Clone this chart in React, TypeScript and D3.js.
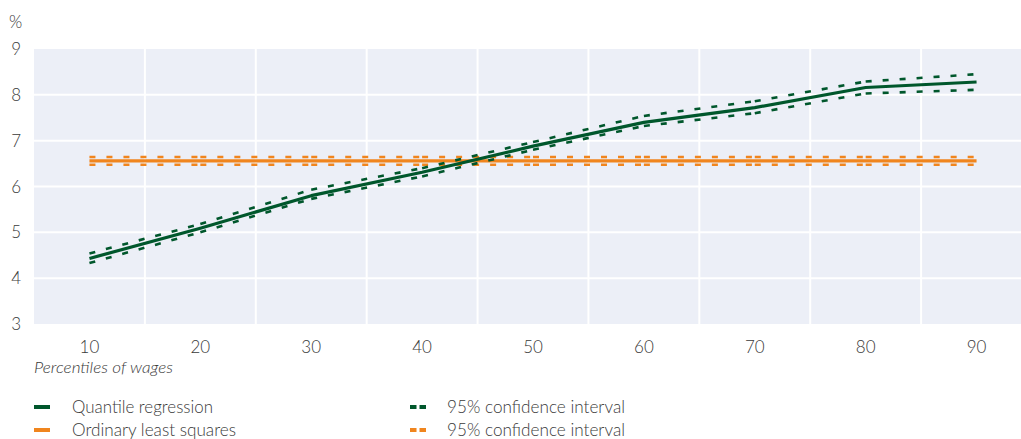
import React from "react";
import * as d3 from "d3";

const percentiles = [10, 20, 30, 40, 50, 60, 70, 80, 90];
const quantileReg = [4.43, 5.09, 5.8, 6.31, 6.88, 7.4, 7.72, 8.16, 8.28];
const quantileUpper = [4.54, 5.18, 5.93, 6.4, 6.97, 7.54, 7.86, 8.29, 8.45];
const quantileLower = [4.33, 5.0, 5.73, 6.22, 6.8, 7.32, 7.6, 8.03, 8.11];
const ols = [6.56, 6.56, 6.56, 6.56, 6.56, 6.56, 6.56, 6.56, 6.56];
const olsUpper = [6.645, 6.645, 6.645, 6.645, 6.645, 6.645, 6.645, 6.645, 6.645];
const olsLower = [6.475, 6.475, 6.475, 6.475, 6.475, 6.475, 6.475, 6.475, 6.475];
const yTicks = [3, 4, 5, 6, 7, 8, 9];
const xGrid = [15, 25, 35, 45, 55, 65, 75, 85];

const GREEN = "#00572C";
const ORANGE = "#F0851E";
const BG = "#ECEFF7";
const TEXT = "#3a3a3a";
const FONT = "Lato, 'Open Sans', sans-serif";

export default function App() {
  const W = 1021;
  const H = 439;
  const x = d3.scaleLinear().domain([5, 95]).range([34, 1032]);
  const y = d3.scaleLinear().domain([3, 9]).range([324, 49]);
  const line = d3
    .line<number>()
    .x((_, i) => x(percentiles[i]))
    .y((d) => y(d));

  const dashed = (vals: number[], color: string, key: string, w: number) =>
    vals.slice(0, -1).map((v, i) => (
      <line
        key={key + i}
        x1={x(percentiles[i])}
        y1={y(v)}
        x2={x(percentiles[i + 1])}
        y2={y(vals[i + 1])}
        stroke={color}
        strokeWidth={w}
        strokeDasharray="6 11"
      />
    ));

  const legend = [
    { lx: 34, tx: 72, cy: 407, color: GREEN, dash: false, label: "Quantile regression", len: 141 },
    { lx: 34, tx: 72, cy: 430, color: ORANGE, dash: false, label: "Ordinary least squares", len: 164 },
    { lx: 410, tx: 447, cy: 407, color: GREEN, dash: true, label: "95% confidence interval", len: 178 },
    { lx: 410, tx: 447, cy: 430, color: ORANGE, dash: true, label: "95% confidence interval", len: 178 },
  ];

  return (
    <div style={{ position: "absolute", left: 0, top: 0 }}>
      <svg width={W} height={H} style={{ display: "block" }} fontFamily={FONT}>
        <rect x={x(5)} y={y(9)} width={W - x(5)} height={y(3) - y(9)} fill={BG} />
        {yTicks.slice(1, -1).map((t) => (
          <line key={"hy" + t} x1={x(5)} x2={W} y1={y(t)} y2={y(t)} stroke="#fff" strokeWidth={2} />
        ))}
        {xGrid.map((t) => (
          <line key={"vx" + t} x1={x(t)} x2={x(t)} y1={y(9)} y2={y(3)} stroke="#fff" strokeWidth={2} />
        ))}
        {yTicks.map((t) => (
          <text key={"yt" + t} x={21} y={y(t)} dy="0.36em" textAnchor="end" fontSize={17} fontWeight={300} fill={TEXT}>
            {t}
          </text>
        ))}
        <text x={9} y={28} fontSize={17} fontWeight={300} fill={TEXT}>%</text>
        {percentiles.map((p) => (
          <text key={"xt" + p} x={x(p)} y={353} textAnchor="middle" fontSize={17} fontWeight={300} fill={TEXT}>
            {p}
          </text>
        ))}
        <text x={34} y={373} fontSize={15.5} fontStyle="italic" fontWeight={300} fill={TEXT} textLength={139} lengthAdjust="spacingAndGlyphs">
          Percentiles of wages
        </text>

        {dashed(olsUpper, ORANGE, "ou", 2.4)}
        {dashed(olsLower, ORANGE, "ol", 2.4)}
        <path d={line(ols) || ""} fill="none" stroke={ORANGE} strokeWidth={3.2} />
        {dashed(quantileUpper, GREEN, "qu", 2.6)}
        {dashed(quantileLower, GREEN, "ql", 2.6)}
        <path d={line(quantileReg) || ""} fill="none" stroke={GREEN} strokeWidth={3.2} strokeLinejoin="round" />

        {legend.map((l, i) => (
          <g key={"lg" + i}>
            <line
              x1={l.lx}
              x2={l.lx + 16}
              y1={l.cy}
              y2={l.cy}
              stroke={l.color}
              strokeWidth={4}
              strokeDasharray={l.dash ? "6.5 3" : undefined}
            />
            <text x={l.tx} y={l.cy} dy="0.36em" fontSize={17} fontWeight={300} fill={TEXT} textLength={l.len} lengthAdjust="spacingAndGlyphs">
              {l.label}
            </text>
          </g>
        ))}
      </svg>
    </div>
  );
}
